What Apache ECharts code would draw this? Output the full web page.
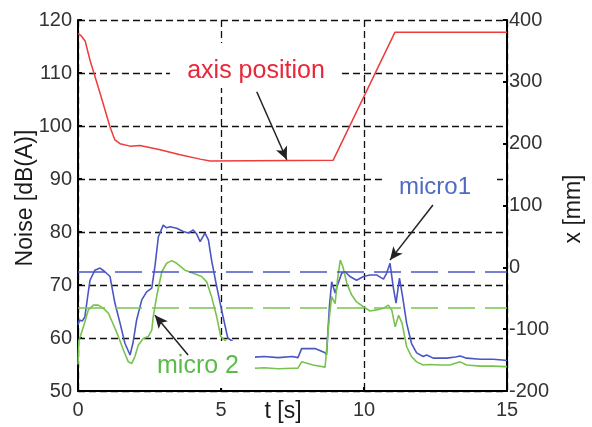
<!DOCTYPE html>
<html>
<head>
<meta charset="utf-8">
<script src="https://cdn.jsdelivr.net/npm/echarts@6/dist/echarts.min.js"></script>
<style>html,body{margin:0;padding:0;background:#fff}#c{width:592px;height:427px}</style>
</head>
<body>
<div id="c"></div>
<script>
// ---- data ----
const xTicks = [0, 5, 10, 15];
const noiseTicks = [50, 60, 70, 80, 90, 100, 110, 120];
const posTicks = [-200, -100, 0, 100, 200, 300, 400];

const tMicro1 = [0, 0.05, 0.15, 0.24, 0.33, 0.42, 0.59, 0.77, 0.94, 1.12, 1.29, 1.47, 1.64, 1.82, 1.92, 2.05, 2.23, 2.4, 2.58, 2.69, 2.81, 2.98, 3.1, 3.22, 3.45, 3.68, 3.86, 4.03, 4.15, 4.27, 4.44, 4.56, 4.67, 4.85, 5.02, 5.2, 5.24, 6.19, 6.5, 7.0, 7.5, 7.69, 7.82, 8.0, 8.29, 8.64, 8.69, 8.79, 8.87, 8.99, 9.1, 9.22, 9.34, 9.51, 9.74, 9.98, 10.21, 10.44, 10.68, 10.79, 10.91, 11.02, 11.12, 11.24, 11.35, 11.49, 11.66, 11.84, 12.07, 12.19, 12.42, 12.89, 13.2, 13.36, 13.59, 14.06, 14.52, 14.93, 15];
const micro1 = [62.5, 63.4, 63.2, 64.0, 67.5, 70.9, 72.8, 73.2, 72.5, 71.6, 66.6, 62.8, 59.0, 56.8, 59.0, 63.4, 67.2, 68.7, 69.4, 73.5, 79.1, 81.3, 80.8, 81.0, 80.7, 80.1, 79.8, 80.4, 79.6, 78.2, 79.8, 78.5, 74.7, 69.7, 65.3, 60.9, 60.0, 56.4, 56.5, 56.3, 56.5, 56.3, 58.0, 58.0, 58.0, 57.2, 56.8, 65.9, 70.6, 68.5, 70.4, 72.2, 72.5, 71.6, 70.9, 71.6, 71.9, 71.9, 71.1, 72.2, 74.1, 69.7, 66.6, 71.3, 67.8, 62.8, 59.0, 57.2, 56.5, 56.8, 56.2, 56.2, 56.4, 56.6, 56.2, 56.0, 56.0, 55.8, 55.7];

const tMicro2 = [0, 0.03, 0.19, 0.36, 0.54, 0.71, 0.89, 1.06, 1.24, 1.41, 1.59, 1.76, 1.88, 1.99, 2.11, 2.28, 2.46, 2.58, 2.63, 2.77, 2.93, 3.1, 3.28, 3.45, 3.74, 4.03, 4.32, 4.5, 4.67, 4.85, 4.99, 6.19, 6.5, 7.0, 7.5, 7.69, 7.82, 8.22, 8.64, 8.69, 8.79, 8.87, 8.99, 9.07, 9.17, 9.26, 9.4, 9.57, 9.74, 9.98, 10.21, 10.44, 10.68, 10.85, 10.97, 11.09, 11.21, 11.33, 11.49, 11.66, 11.84, 12.07, 12.3, 12.65, 13.0, 13.36, 13.59, 14.06, 14.5, 14.93, 15];
const micro2 = [55.0, 59.5, 62.1, 65.3, 66.2, 66.2, 65.6, 64.7, 62.5, 60.3, 57.7, 55.5, 55.2, 56.5, 58.7, 59.9, 60.3, 61.5, 64.0, 68.4, 72.5, 74.1, 74.6, 74.1, 72.8, 72.2, 71.6, 70.6, 67.8, 64.0, 60.3, 54.3, 54.4, 54.2, 54.3, 54.3, 55.5, 54.9, 54.5, 54.3, 64.0, 67.8, 66.5, 70.9, 74.7, 73.5, 70.3, 68.1, 66.8, 65.9, 65.1, 65.3, 65.6, 66.2, 65.3, 62.1, 64.3, 62.8, 58.4, 56.5, 55.5, 54.9, 55.0, 54.9, 54.9, 55.5, 54.9, 54.7, 54.7, 54.6, 54.6];

const tAxisPos = [0, 0.1, 0.25, 0.42, 0.77, 1.12, 1.29, 1.47, 1.82, 2.17, 2.87, 3.57, 4.27, 4.62, 8.92, 11.08, 15];
const axisPos = [378, 375, 366, 335, 282, 227, 206, 200, 196, 197, 190, 182, 175, 172, 173, 380, 380];

const micro1Level = 72.5;
const micro2Level = 65.8;

// annotation arrows: [tailT, tailV, headT, headV]
const arrowAxisPos = [6.25, 284, 7.3, 174];
const arrowMicro1 = [12.41, 85.1, 10.91, 74.7];
const arrowMicro2 = [3.85, 56.8, 2.69, 64.3];

const labelAxisPos = 'axis position';
const labelMicro1 = 'micro1';
const labelMicro2 = 'micro 2';

// ---- styles ----
const FONT = '"Liberation Sans", Arial, sans-serif';
const BLUE = '#4b56c4', GREEN = '#78c350', RED = '#ee3b3b';
const zip = (a, b) => a.map((v, i) => [v, b[i]]);
const arrowML = (a) => [[{ coord: [a[0], a[1]] }, { coord: [a[2], a[3]] }]];
const gridLine = { show: true, lineStyle: { color: '#111', type: [7, 4], width: 1.3 } };
const axisLine = { show: true, onZero: false, lineStyle: { color: '#000', width: 2 } };
const axisTick = { show: true, inside: true, length: 4, lineStyle: { color: '#000', width: 2 } };

const chart = echarts.init(document.getElementById('c'), null, { renderer: 'canvas' });
chart.setOption({
  animation: false,
  backgroundColor: '#fff',
  grid: { left: 78, right: 85, top: 20, bottom: 36 },
  xAxis: {
    type: 'value', min: xTicks[0], max: xTicks[xTicks.length - 1], interval: 5,
    axisLine, axisTick,
    axisLabel: { fontSize: 20, color: '#333', margin: 9, fontFamily: FONT },
    splitLine: gridLine
  },
  yAxis: [{
    type: 'value', position: 'left', min: noiseTicks[0], max: noiseTicks[noiseTicks.length - 1], interval: 10,
    axisLine, axisTick,
    axisLabel: { fontSize: 20, color: '#333', margin: 6, fontFamily: FONT },
    splitLine: gridLine
  }, {
    type: 'value', position: 'right', min: posTicks[0], max: posTicks[posTicks.length - 1], interval: 100,
    axisLine, axisTick,
    axisLabel: { fontSize: 20, color: '#333', margin: 2, fontFamily: FONT },
    splitLine: { show: false }
  }],
  series: [{
    name: 'micro1', type: 'line', yAxisIndex: 0, data: zip(tMicro1, micro1),
    showSymbol: false, lineStyle: { color: BLUE, width: 1.6 }, itemStyle: { color: BLUE },
    markLine: { silent: true, symbol: 'none', label: { show: false },
      lineStyle: { color: BLUE, type: [27, 10], width: 1.5 }, data: [{ yAxis: micro1Level }] }
  }, {
    name: 'micro 2', type: 'line', yAxisIndex: 0, data: zip(tMicro2, micro2),
    showSymbol: false, lineStyle: { color: GREEN, width: 1.6 }, itemStyle: { color: GREEN },
    markLine: { silent: true, symbol: 'none', label: { show: false },
      lineStyle: { color: GREEN, type: [27, 10], width: 1.5 }, data: [{ yAxis: micro2Level }] }
  }, {
    name: 'axis position', type: 'line', yAxisIndex: 1, data: zip(tAxisPos, axisPos),
    showSymbol: false, lineStyle: { color: RED, width: 1.5 }, itemStyle: { color: RED }
  }, {
    name: 'arrowsLeft', type: 'line', yAxisIndex: 0, data: [], z: 20,
    markLine: { silent: true, z: 20, symbol: ['none', 'arrow'], symbolSize: [9, 13], label: { show: false },
      lineStyle: { color: '#222', width: 1.5, type: 'solid' },
      data: [arrowML(arrowMicro1)[0], arrowML(arrowMicro2)[0]] }
  }, {
    name: 'arrowsRight', type: 'line', yAxisIndex: 1, data: [], z: 20,
    markLine: { silent: true, z: 20, symbol: ['none', 'arrow'], symbolSize: [9, 13], label: { show: false },
      lineStyle: { color: '#222', width: 1.5, type: 'solid' },
      data: arrowML(arrowAxisPos) }
  }],
  graphic: [
    { type: 'rect', z: 10, silent: true, shape: { x: 170, y: 43, width: 168, height: 45 }, style: { fill: '#fff' } },
    { type: 'rect', z: 10, silent: true, shape: { x: 383, y: 166, width: 114, height: 34 }, style: { fill: '#fff' } },
    { type: 'rect', z: 10, silent: true, shape: { x: 150, y: 341, width: 105, height: 47 }, style: { fill: '#fff' } },
    { type: 'text', z: 30, x: 256, y: 71, style: { text: labelAxisPos, fill: '#e8283a', font: '25px ' + FONT, textAlign: 'center', textVerticalAlign: 'middle' } },
    { type: 'text', z: 30, x: 435, y: 187, style: { text: labelMicro1, fill: '#4e6bc4', font: '24px ' + FONT, textAlign: 'center', textVerticalAlign: 'middle' } },
    { type: 'text', z: 30, x: 198, y: 366, style: { text: labelMicro2, fill: '#5cbc4a', font: '25px ' + FONT, textAlign: 'center', textVerticalAlign: 'middle' } },
    { type: 'text', z: 30, x: 26, y: 198, rotation: Math.PI / 2, style: { text: 'Noise [dB(A)]', fill: '#1a1a1a', font: '23px ' + FONT, textAlign: 'center', textVerticalAlign: 'middle' } },
    { type: 'text', z: 30, x: 574, y: 209, rotation: Math.PI / 2, style: { text: 'x [mm]', fill: '#1a1a1a', font: '23px ' + FONT, textAlign: 'center', textVerticalAlign: 'middle' } },
    { type: 'text', z: 30, x: 283, y: 412, style: { text: 't [s]', fill: '#1a1a1a', font: '23px ' + FONT, textAlign: 'center', textVerticalAlign: 'middle' } }
  ]
});
</script>
</body>
</html>
